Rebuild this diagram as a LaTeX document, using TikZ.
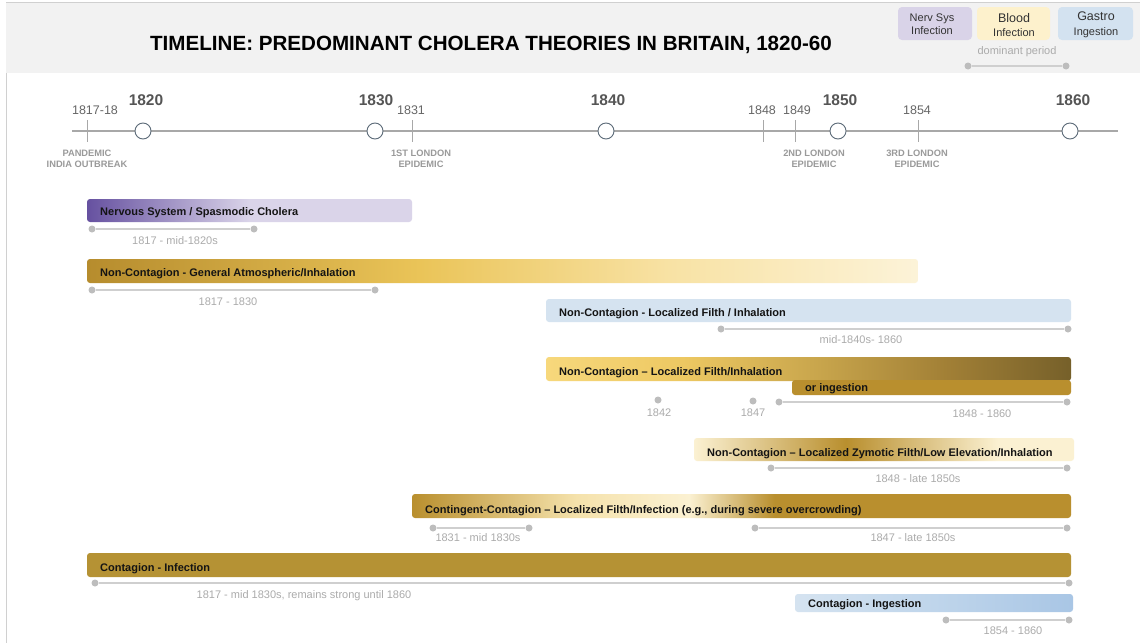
\documentclass[tikz,border=0pt]{standalone}
\usepackage{fontspec}
\setmainfont{Liberation Sans}
\definecolor{hdr}{HTML}{F2F2F2}
\definecolor{frame}{HTML}{D0D0D0}
\definecolor{axisc}{HTML}{A8A8A8}
\definecolor{circ}{HTML}{5C6B78}
\definecolor{yr}{HTML}{666666}
\definecolor{yrb}{HTML}{555555}
\definecolor{evt}{HTML}{9A9A9A}
\definecolor{rng}{HTML}{CFCFCF}
\definecolor{dotg}{HTML}{BDBDBD}
\definecolor{rtx}{HTML}{ABABAB}
\definecolor{purpD}{HTML}{6651A0}
\definecolor{purpL}{HTML}{DAD4E9}
\definecolor{goldD}{HTML}{B68C2D}
\definecolor{gold}{HTML}{B98F2E}
\definecolor{goldC}{HTML}{B59234}
\definecolor{goldM}{HTML}{EAC458}
\definecolor{goldL}{HTML}{F8E2A4}
\definecolor{paleY}{HTML}{FCF3D8}
\definecolor{paleZ}{HTML}{FBF1D2}
\definecolor{blueL}{HTML}{D5E3F0}
\definecolor{blueN}{HTML}{BFD5EB}
\definecolor{blueM}{HTML}{A9C6E5}
\definecolor{brownD}{HTML}{76602A}
\definecolor{yelL}{HTML}{F7D87C}
\definecolor{lf2}{HTML}{EDC862}
\definecolor{lf3}{HTML}{C8A54C}
\definecolor{lf4}{HTML}{A28036}
\definecolor{cc2}{HTML}{F5E2AC}
\definecolor{legP}{HTML}{D9D3E8}
\definecolor{legY}{HTML}{FDF1CC}
\definecolor{legB}{HTML}{D3E2F0}
\pgfdeclarehorizontalshading{nsshade}{100bp}{color(0bp)=(purpD); color(25bp)=(purpD); color(50bp)=(purpL); color(100bp)=(purpL)}
\pgfdeclarehorizontalshading{atmshade}{100bp}{color(0bp)=(goldD); color(25bp)=(goldD); color(45bp)=(goldM); color(60bp)=(goldL); color(75bp)=(paleY); color(100bp)=(paleY)}
\pgfdeclarehorizontalshading{lfshade}{100bp}{color(0bp)=(yelL); color(25bp)=(yelL); color(38bp)=(lf2); color(51bp)=(lf3); color(63bp)=(lf4); color(75bp)=(brownD); color(100bp)=(brownD)}
\pgfdeclarehorizontalshading{zyshade}{100bp}{color(0bp)=(paleZ); color(25bp)=(paleZ); color(45bp)=(gold); color(65bp)=(paleZ); color(100bp)=(paleZ)}
\pgfdeclarehorizontalshading{ccshade}{100bp}{color(0bp)=(gold); color(25bp)=(gold); color(37.5bp)=(cc2); color(46bp)=(paleZ); color(52.5bp)=(gold); color(100bp)=(gold)}
\pgfdeclarehorizontalshading{cishade}{100bp}{color(0bp)=(blueL); color(25bp)=(blueL); color(50bp)=(blueN); color(75bp)=(blueM); color(100bp)=(blueM)}
\newcommand{\barfnt}{\fontsize{11}{13}\bfseries}
\newcommand{\rngfnt}{\fontsize{11}{13}\selectfont}
\newcommand{\evtfnt}{\fontsize{9.3}{11.5}\bfseries}
\begin{document}
\begin{tikzpicture}[x=1pt,y=-1pt,
  bartext/.style={anchor=west, font=\barfnt, text=black!92, inner sep=0pt},
  rngtext/.style={font=\rngfnt, text=rtx, inner sep=0pt},
  rngline/.style={draw=rng, line width=1.4pt},
  dotc/.style={circle, fill=dotg, inner sep=0pt, minimum size=7pt},
  yearc/.style={circle, draw=circ, fill=white, line width=0.9pt, inner sep=0pt, minimum size=16pt},
  tickl/.style={draw=axisc, line width=1pt},
  yrsmall/.style={font=\fontsize{12.5}{14}\selectfont, text=yr, inner sep=0pt},
  yrbig/.style={font=\fontsize{15.5}{17}\bfseries, text=yrb, inner sep=0pt},
  evtlab/.style={font=\evtfnt, text=evt, align=center, inner sep=0pt},
  legbox/.style={fill=#1, rounded corners=4pt},
  legtext/.style={font=\fontsize{11}{13}\selectfont, text=black!80, align=center, inner sep=0pt},
  barbox/.style={rounded corners=3pt}
]
\useasboundingbox (0,0) rectangle (1140,643);
\fill[white] (0,0) rectangle (1140,643);
% header
\fill[hdr] (6,3) rectangle (1140,73);
\draw[frame, line width=0.8pt] (6,2.5) -- (1140,2.5);
\draw[frame, line width=0.8pt] (6,73) -- (6,643);
\node[font=\fontsize{20.6}{24}\bfseries, text=black, inner sep=0pt] (title) at (491,45) {TIMELINE: PREDOMINANT CHOLERA THEORIES IN BRITAIN, 1820-60};
% legend
\fill[legbox=legP] (898,7) rectangle (972,40);
\fill[legbox=legY] (977,7) rectangle (1050,40);
\fill[legbox=legB] (1058,7) rectangle (1133,40);
\node[legtext] (legns) at (932,24) {Nerv Sys\\Infection};
\node[legtext, font=\fontsize{12.5}{14.5}\selectfont] (legbl) at (1014,25) {Blood\\\fontsize{11}{13}\selectfont Infection};
\node[legtext, font=\fontsize{12.5}{14.5}\selectfont] (leggi) at (1096,25) {Gastro\\\fontsize{11}{13}\selectfont Ingestion};
\node[font=\fontsize{11}{13}\selectfont, text=rtx, inner sep=0pt] (legdp) at (1017,52) {dominant period};
\node[dotc] (legA) at (968,66) {};
\node[dotc] (legB) at (1066,66) {};
\draw[rngline] (legA) -- (legB);
% axis
\coordinate (axL) at (72,131);
\coordinate (axR) at (1118,131);
\draw[draw=axisc, line width=1.2pt] (axL) -- (axR);
\foreach \nm/\xx in {t1817/87, t1831/412, t1848/763, t1849/795, t1854/918} {
  \coordinate (\nm a) at (\xx,120);
  \coordinate (\nm b) at (\xx,142);
  \draw[tickl] (\nm a) -- (\nm b);
}
\node[yearc] (c1820) at (143,131) {};
\node[yearc] (c1830) at (375,131) {};
\node[yearc] (c1840) at (606,131) {};
\node[yearc] (c1850) at (838,131) {};
\node[yearc] (c1860) at (1070,131) {};
\node[yrbig] (y1820) at (146,100) {1820};
\node[yrbig] (y1830) at (376,100) {1830};
\node[yrbig] (y1840) at (608,100) {1840};
\node[yrbig] (y1850) at (840,100) {1850};
\node[yrbig] (y1860) at (1073,100) {1860};
\node[yrsmall] (l1817) at (95,110) {1817-18};
\node[yrsmall] (l1831) at (411,110) {1831};
\node[yrsmall] (l1848) at (762,110) {1848};
\node[yrsmall] (l1849) at (797,110) {1849};
\node[yrsmall] (l1854) at (917,110) {1854};
\node[evtlab] (e1) at (87,159) {PANDEMIC\\INDIA OUTBREAK};
\node[evtlab] (e2) at (421,159) {1ST LONDON\\EPIDEMIC};
\node[evtlab] (e3) at (814,159) {2ND LONDON\\EPIDEMIC};
\node[evtlab] (e4) at (917,159) {3RD LONDON\\EPIDEMIC};
% bar 1
\shade[barbox, shading=nsshade] (87,199) rectangle (412,222);
\node[bartext] (b1) at (100,212.5) {Nervous System / Spasmodic Cholera};
\node[dotc] (r1a) at (92,229) {};
\node[dotc] (r1b) at (254,229) {};
\draw[rngline] (r1a) -- (r1b);
\node[rngtext] (r1t) at (175,241) {1817 - mid-1820s};
% bar 2
\shade[barbox, shading=atmshade] (87,259) rectangle (918,283);
\node[bartext] (b2) at (100,274) {Non-Contagion - General Atmospheric/Inhalation};
\node[dotc] (r2a) at (92,290) {};
\node[dotc] (r2b) at (375,290) {};
\draw[rngline] (r2a) -- (r2b);
\node[rngtext] (r2t) at (228,302) {1817 - 1830};
% bar 3
\fill[barbox, blueL] (546,299) rectangle (1071,322);
\node[bartext] (b3) at (559,314) {Non-Contagion - Localized Filth / Inhalation};
\node[dotc] (r3a) at (721,329) {};
\node[dotc] (r3b) at (1068,329) {};
\draw[rngline] (r3a) -- (r3b);
\node[rngtext] (r3t) at (861,340) {mid-1840s- 1860};
% bar 4
\shade[barbox, shading=lfshade] (546,357) rectangle (1071,381);
\node[bartext] (b4) at (559,373) {Non-Contagion – Localized Filth/Inhalation};
\fill[barbox, gold] (792,380) rectangle (1071,395);
\node[bartext] (b4b) at (805,389) {or ingestion};
\node[dotc] (d1842) at (658,400) {};
\node[rngtext] (t1842) at (659,413) {1842};
\node[dotc] (d1847) at (753,401) {};
\node[rngtext] (t1847) at (753,413) {1847};
\node[dotc] (r4a) at (779,402) {};
\node[dotc] (r4b) at (1067,402) {};
\draw[rngline] (r4a) -- (r4b);
\node[rngtext] (r4t) at (982,414) {1848 - 1860};
% bar 5
\shade[barbox, shading=zyshade] (694,438) rectangle (1074,461);
\node[bartext] (b5) at (707,453.5) {Non-Contagion – Localized Zymotic Filth/Low Elevation/Inhalation};
\node[dotc] (r5a) at (771,468) {};
\node[dotc] (r5b) at (1067,468) {};
\draw[rngline] (r5a) -- (r5b);
\node[rngtext] (r5t) at (918,479) {1848 - late 1850s};
% bar 6
\shade[barbox, shading=ccshade] (412,494) rectangle (1071,518);
\node[bartext] (b6) at (425,510.5) {Contingent-Contagion – Localized Filth/Infection (e.g., during severe overcrowding)};
\node[dotc] (r6a) at (433,528) {};
\node[dotc] (r6b) at (529,528) {};
\draw[rngline] (r6a) -- (r6b);
\node[rngtext] (r6t) at (478,538) {1831 - mid 1830s};
\node[dotc] (r6c) at (755,528) {};
\node[dotc] (r6d) at (1067,528) {};
\draw[rngline] (r6c) -- (r6d);
\node[rngtext] (r6u) at (913,538) {1847 - late 1850s};
% bar 7
\fill[barbox, goldC] (87,553) rectangle (1071,577);
\node[bartext] (b7) at (100,569) {Contagion - Infection};
\node[dotc] (r7a) at (95,583) {};
\node[dotc] (r7b) at (1069,583) {};
\draw[rngline] (r7a) -- (r7b);
\node[rngtext] (r7t) at (304,596) {1817 - mid 1830s, remains strong until 1860};
% bar 8
\shade[barbox, shading=cishade] (795,594) rectangle (1073,612);
\node[bartext] (b8) at (808,604.5) {Contagion - Ingestion};
\node[dotc] (r8a) at (946,620) {};
\node[dotc] (r8b) at (1069,620) {};
\draw[rngline] (r8a) -- (r8b);
\node[rngtext] (r8t) at (1013,631) {1854 - 1860};
\end{tikzpicture}
\end{document}
